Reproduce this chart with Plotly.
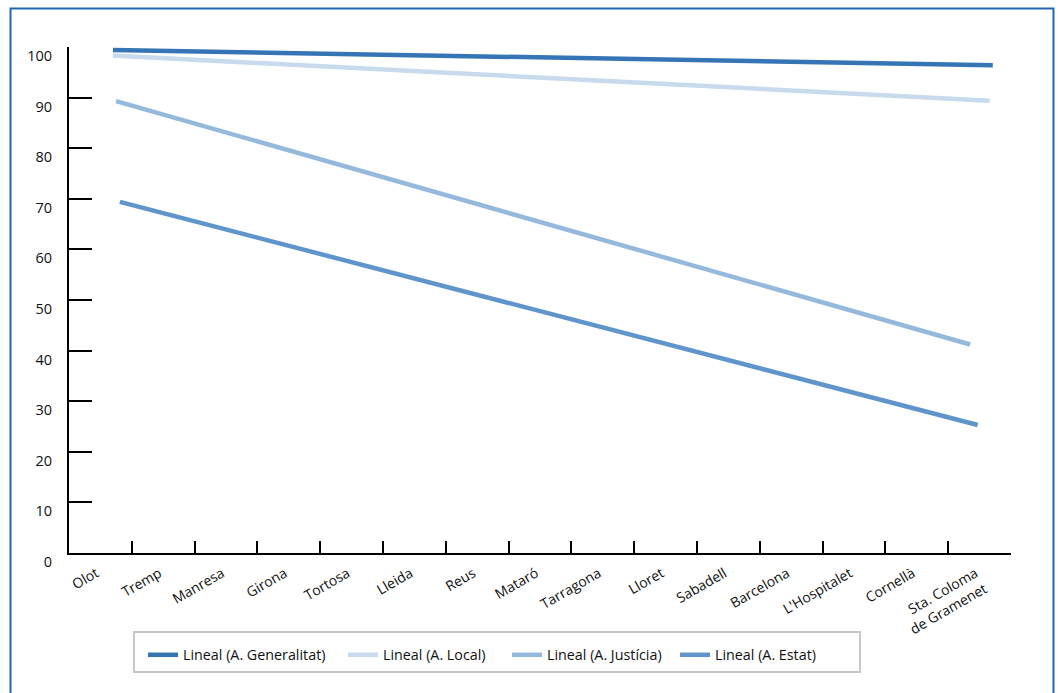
import plotly.graph_objects as go

categories = ["Olot", "Tremp", "Manresa", "Girona", "Tortosa", "Lleida", "Reus",
              "Mataró", "Tarragona", "Lloret", "Sabadell", "Barcelona",
              "L'Hospitalet", "Cornellà", "Sta. Coloma<br>de Gramenet"]

series_names = ["Lineal (A. Generalitat)", "Lineal (A. Local)",
                "Lineal (A. Justícia)", "Lineal (A. Estat)"]
# trendline endpoints (category position, value)
x_start = [0.20, 0.20, 0.25, 0.31]
x_end = [14.21, 14.16, 13.85, 13.97]
y_start = [99.4, 98.3, 89.3, 69.4]
y_end = [96.4, 89.4, 41.2, 25.3]
colors = ["#3574b5", "#c7daee", "#95b9dd", "#5f95cb"]
y_ticks = [0, 10, 20, 30, 40, 50, 60, 70, 80, 90, 100]

W, H = 1059, 693
L, R, T, B = 69, 1011, 47, 553
PW, PH = R - L, B - T


def px(x):
    return (x - L) / PW


def py(y):
    return (B - y) / PH


font_family = "Open Sans, Noto Sans, sans-serif"
legend_ids = ["legend", "legend2", "legend3", "legend4"]
legend_left = [143, 343, 507, 675]

fig = go.Figure()

fig.add_trace(go.Scatter(x=categories, y=[None] * len(categories), xaxis="x",
                         showlegend=False, hoverinfo="skip", mode="lines"))

for i, name in enumerate(series_names):
    fig.add_trace(go.Scatter(
        x=[x_start[i], x_end[i]], y=[y_start[i], y_end[i]],
        mode="lines", name=name, xaxis="x2", legend=legend_ids[i],
        line=dict(color=colors[i], width=4.5),
    ))

legend_layout = {}
for i, lid in enumerate(legend_ids):
    legend_layout[lid] = dict(
        orientation="h", x=px(legend_left[i]), xanchor="left",
        y=py(655), yanchor="middle",
        borderwidth=0, bgcolor="rgba(0,0,0,0)",
        font=dict(size=14.3, family=font_family, color="#111111"),
        itemwidth=30,
    )

fig.update_layout(
    width=W, height=H,
    margin=dict(l=L, r=W - R, t=T, b=H - B, autoexpand=False),
    paper_bgcolor="white", plot_bgcolor="white",
    font=dict(family=font_family, color="#111111", size=13),
    xaxis=dict(
        type="category", range=[-0.5, 14.5], tickson="boundaries",
        ticks="inside", ticklen=12, tickwidth=2, tickcolor="black",
        showline=True, linecolor="black", linewidth=2,
        showgrid=False, zeroline=False, tickangle=-30,
        tickfont=dict(size=14, family=font_family, color="#111111"),
        ticklabelshift=-4, ticklabelstandoff=5,
        automargin=False, fixedrange=True,
    ),
    xaxis2=dict(
        overlaying="x", range=[-0.5, 14.5], visible=False, showgrid=False,
        zeroline=False, fixedrange=True,
    ),
    yaxis=dict(
        range=[0, 100], tickvals=y_ticks, ticks="inside", ticklen=23,
        tickwidth=2, tickcolor="black", showline=True, linecolor="black",
        linewidth=2, showgrid=False, zeroline=False,
        tickfont=dict(size=14.5, family=font_family, color="#111111"),
        ticklabelstandoff=12, ticklabelshift=9,
        automargin=False, fixedrange=True,
    ),
    showlegend=True,
    **legend_layout,
)

# legend box
fig.add_shape(type="rect", xref="paper", yref="paper",
              x0=px(134), x1=px(860), y0=py(672), y1=py(632),
              line=dict(color="#c8c8c8", width=2), fillcolor="white",
              layer="below")

# outer blue frame
fig.add_shape(type="rect", xref="paper", yref="paper",
              x0=px(10.5), x1=px(1053.5), y0=py(720), y1=py(8.5),
              line=dict(color="#1f66b3", width=2), layer="below")

fig.write_html(
    "out.html",
    config={"displayModeBar": False},
    post_script="document.body.style.margin='0';document.body.style.overflow='hidden';",
)
